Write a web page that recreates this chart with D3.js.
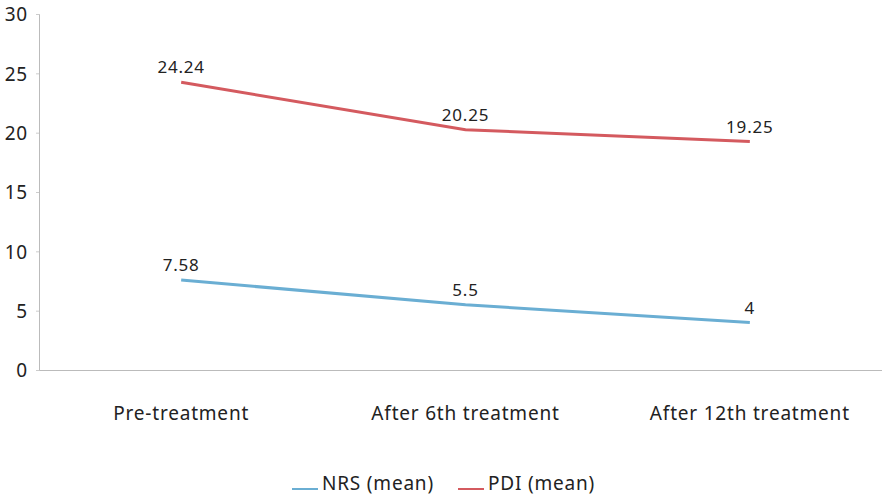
<!DOCTYPE html>
<html>
<head>
<meta charset="utf-8">
<script src="https://cdn.jsdelivr.net/npm/d3@7"></script>
<style>
    body { margin: 0; background: #fff; }
    text { font-family: "Noto Sans", sans-serif; fill: #222; letter-spacing: 0.8px; }
</style>
</head>
<body>
<div id="chart"></div>
<script>
// chart data
const categories = ["Pre-treatment", "After 6th treatment", "After 12th treatment"];
const nrsValues = [7.58, 5.5, 4];
const pdiValues = [24.24, 20.25, 19.25];
const seriesNames = ["NRS (mean)", "PDI (mean)"];
const yTicks = [0, 5, 10, 15, 20, 25, 30];

const width = 882, height = 496;
const colors = ["#6aaed3", "#d45a5f"];

const svg = d3.select("#chart").append("svg")
    .attr("width", width)
    .attr("height", height);

// scales
const x = d3.scaleBand().domain(categories).range([39, 892]);
const y = d3.scaleLinear().domain([0, 30]).range([370, 14]);

// y axis
const yAxis = svg.append("g")
    .attr("transform", "translate(39,0)")
    .call(d3.axisLeft(y).tickValues(yTicks).tickSize(3).tickPadding(8));
yAxis.select(".domain").attr("stroke", "#bbb");
yAxis.selectAll(".tick line").attr("stroke", "#ccc");
yAxis.selectAll(".tick text").style("font-size", "19px").attr("dy", "0.36em");

// x axis
const xAxis = svg.append("g")
    .attr("transform", "translate(0,370)")
    .call(d3.axisBottom(x).tickSize(0).tickPadding(37));
xAxis.select(".domain").attr("stroke", "#bbb");
xAxis.selectAll(".tick text").style("font-size", "19px");

const series = [nrsValues, pdiValues];

const line = d3.line()
    .x((d, i) => x(categories[i]) + x.bandwidth() / 2)
    .y(d => y(d));

series.forEach(function(vals, s) {
    svg.append("path")
        .datum(vals)
        .attr("fill", "none")
        .attr("stroke", colors[s])
        .attr("stroke-width", 3)
        .attr("d", line);

    svg.selectAll(".lbl" + s)
        .data(vals)
        .enter()
        .append("text")
        .attr("x", (d, i) => x(categories[i]) + x.bandwidth() / 2)
        .attr("y", d => y(d) - 9)
        .attr("text-anchor", "middle")
        .style("font-size", "17px")
        .text(d => d);
});

// legend
const legend = svg.append("g");
const legendX = [292, 458];
seriesNames.forEach(function(name, s) {
    legend.append("line")
        .attr("x1", legendX[s]).attr("x2", legendX[s] + 26)
        .attr("y1", 489).attr("y2", 489)
        .attr("stroke", colors[s])
        .attr("stroke-width", 2);
    legend.append("text")
        .attr("x", legendX[s] + 30)
        .attr("y", 490)
        .style("font-size", "19px")
        .text(name);
});
</script>
</body>
</html>
